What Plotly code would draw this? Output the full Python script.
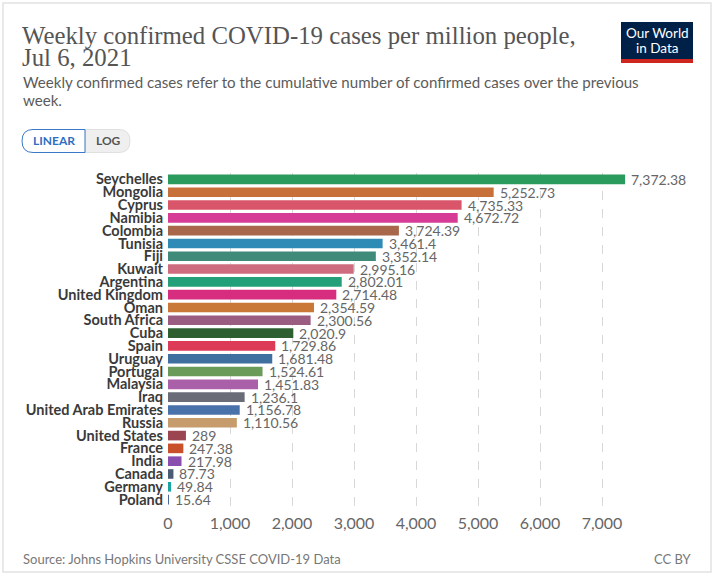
import plotly.graph_objects as go

countries = ["Seychelles", "Mongolia", "Cyprus", "Namibia", "Colombia", "Tunisia", "Fiji",
             "Kuwait", "Argentina", "United Kingdom", "Oman", "South Africa", "Cuba", "Spain",
             "Uruguay", "Portugal", "Malaysia", "Iraq", "United Arab Emirates", "Russia",
             "United States", "France", "India", "Canada", "Germany", "Poland"]
values = [7372.38, 5252.73, 4735.33, 4672.72, 3724.39, 3461.4, 3352.14, 2995.16, 2802.01,
          2714.48, 2354.59, 2300.56, 2020.9, 1729.86, 1681.48, 1524.61, 1451.83, 1236.1,
          1156.78, 1110.56, 289, 247.38, 217.98, 87.73, 49.84, 15.64]
value_labels = ["7,372.38", "5,252.73", "4,735.33", "4,672.72", "3,724.39", "3,461.4", "3,352.14",
                "2,995.16", "2,802.01", "2,714.48", "2,354.59", "2,300.56", "2,020.9", "1,729.86",
                "1,681.48", "1,524.61", "1,451.83", "1,236.1", "1,156.78", "1,110.56", "289",
                "247.38", "217.98", "87.73", "49.84", "15.64"]
colors = ["#2a9a5d", "#c8703a", "#d9566a", "#d63c96", "#a8674a", "#2e8bb5", "#3f8a78",
          "#cf6b7e", "#23a07a", "#d62d7f", "#c97838", "#9a5c80", "#2e5f30", "#dc3a57",
          "#3e6f9e", "#6a9b58", "#a960a8", "#6a6d78", "#4a72aa", "#c69c6c",
          "#9a4550", "#c8502a", "#8a4fae", "#4a5a72", "#1aa3a0", "#4a6a9a"]
tick_vals = [0, 1000, 2000, 3000, 4000, 5000, 6000, 7000]
tick_text = ["0", "1,000", "2,000", "3,000", "4,000", "5,000", "6,000", "7,000"]

W, H = 720, 577
ML, MR, MT, MB = 168, 56, 173, 71
PW, PH = W - ML - MR, H - MT - MB


def px(x):
    return (x - ML) / PW


def py(y):
    return (H - MB - y) / PH


fig = go.Figure(go.Bar(
    x=values, y=countries, orientation="h",
    marker=dict(color=colors, line=dict(width=0)),
    hoverinfo="skip",
))

n = len(countries)
fig.update_layout(
    width=W, height=H,
    margin=dict(l=ML, r=MR, t=MT, b=MB),
    paper_bgcolor="white", plot_bgcolor="white",
    bargap=0.25, showlegend=False,
    xaxis=dict(range=[0, 8000], autorange=False, tickvals=tick_vals, ticktext=tick_text,
               showgrid=True, gridcolor="#d8d8d8", griddash="dash", gridwidth=1,
               zeroline=False, showline=False, ticks="",
               tickfont=dict(family="Lato", size=16, color="#666"),
               ticklabelstandoff=6),
    yaxis=dict(categoryorder="array", categoryarray=countries,
               range=[n - 0.5, -0.5], autorange=False,
               tickmode="array", tickvals=countries, ticktext=countries,
               showgrid=False, zeroline=False, showline=False, ticks="",
               tickfont=dict(family="Lato", size=14.5, color="#3a3a3a", weight="bold"),
               ticklabelstandoff=4),
    font=dict(family="Lato"),
)

shapes = [
    # card border
    dict(type="rect", xref="paper", yref="paper", x0=px(3), x1=px(711), y0=py(572), y1=py(3),
         line=dict(color="#e2e2e2", width=1.5), fillcolor="rgba(0,0,0,0)", layer="below"),
    # logo
    dict(type="rect", xref="paper", yref="paper", x0=px(621), x1=px(693), y0=py(59), y1=py(22),
         line=dict(width=0), fillcolor="#002147"),
    dict(type="rect", xref="paper", yref="paper", x0=px(621), x1=px(693), y0=py(63), y1=py(59),
         line=dict(width=0), fillcolor="#ce261e"),
    # LOG button background
    dict(type="path", xref="paper", yref="paper",
         path=(f"M {px(85)},{py(129.5)} L {px(119)},{py(129.5)} "
               f"Q {px(130)},{py(129.5)} {px(130)},{py(141)} "
               f"Q {px(130)},{py(152.5)} {px(119)},{py(152.5)} "
               f"L {px(85)},{py(152.5)} Z"),
         line=dict(color="#e0e0e0", width=1), fillcolor="#efefef"),
    # LINEAR button
    dict(type="path", xref="paper", yref="paper",
         path=(f"M {px(33)},{py(129.5)} L {px(85)},{py(129.5)} "
               f"L {px(85)},{py(152.5)} L {px(33)},{py(152.5)} "
               f"Q {px(22)},{py(152.5)} {px(22)},{py(141)} "
               f"Q {px(22)},{py(129.5)} {px(33)},{py(129.5)} Z"),
         line=dict(color="#3a79c8", width=1), fillcolor="white"),
]
fig.update_layout(shapes=shapes)


def ann(text, x, y, size, color, family="Lato", xanchor="left", yanchor="middle", **kw):
    return dict(text=text, x=px(x), y=py(y), xref="paper", yref="paper",
                xanchor=xanchor, yanchor=yanchor, showarrow=False,
                font=dict(family=family, size=size, color=color, **kw))


annotations = [
    ann("Weekly confirmed COVID-19 cases per million people,", 20, 35, 24.8, "#555",
        family="Liberation Serif"),
    ann("Jul 6, 2021", 20, 57, 24.8, "#555", family="Liberation Serif"),
    ann("Weekly confirmed cases refer to the cumulative number of confirmed cases over the previous",
        21, 82, 15.1, "#5b5b5b"),
    ann("week.", 21, 100, 15.1, "#5b5b5b"),
    ann("LINEAR", 53.5, 141, 12, "#2f6fbf", xanchor="center", weight="bold"),
    ann("LOG", 108, 141, 12, "#555", xanchor="center", weight="bold"),
    ann("Our World", 657, 33, 13.5, "white", xanchor="center"),
    ann("in Data", 657, 48, 13.5, "white", xanchor="center"),
    ann("Source: Johns Hopkins University CSSE COVID-19 Data", 21, 559, 13, "#777"),
    ann("CC BY", 694, 559, 13, "#777", xanchor="right"),
]
for v, c, lbl in zip(values, countries, value_labels):
    annotations.append(dict(text=lbl, x=v, y=c, xref="x", yref="y", xanchor="left",
                            yanchor="middle", xshift=4, showarrow=False,
                            font=dict(family="Lato", size=14, color="#666")))
fig.update_layout(annotations=annotations)

fig.write_html("out.html")
